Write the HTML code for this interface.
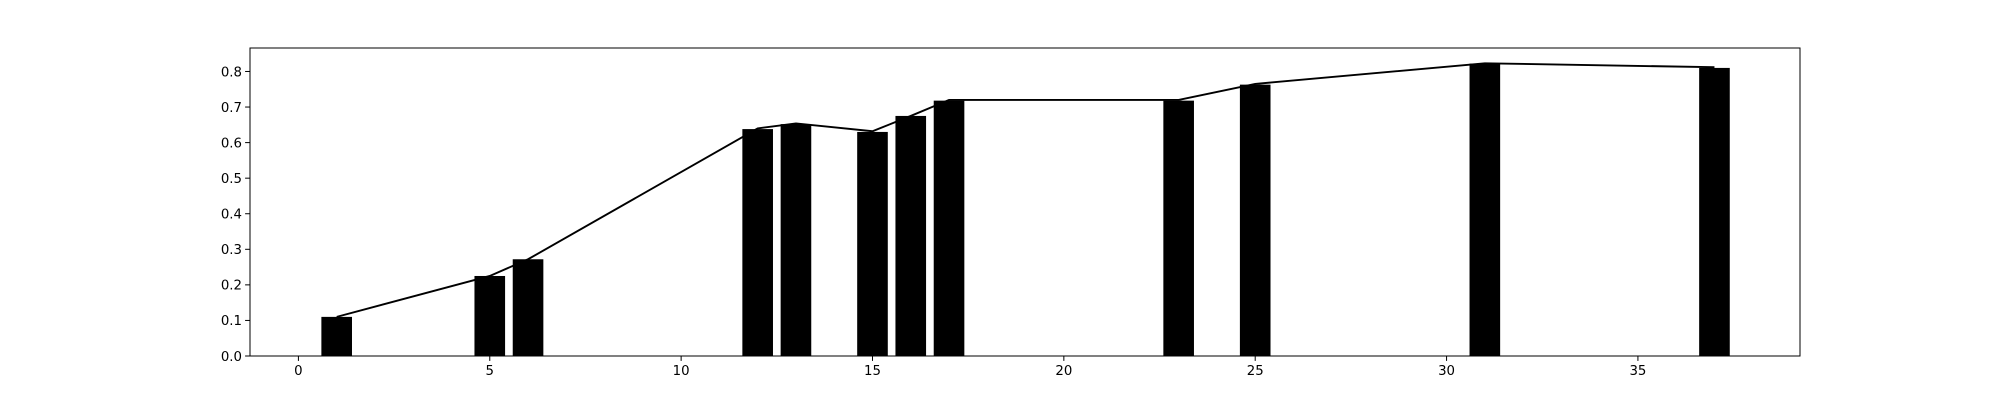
<!DOCTYPE html>
<html><head><meta charset="utf-8"><style>
body{margin:0;background:#fff}
svg{display:block}
text{font-family:"DejaVu Sans","Liberation Sans",sans-serif;font-size:13.3px;fill:#000}
</style></head><body>
<svg id="chart" width="2000" height="400" xmlns="http://www.w3.org/2000/svg"></svg>
<script>
const categories=[1,5,6,12,13,15,16,17,23,25,31,37];
const barValues=[0.11,0.225,0.272,0.638,0.652,0.63,0.675,0.718,0.718,0.763,0.822,0.81];
const lineValues=[0.11,0.225,0.272,0.64,0.654,0.632,0.675,0.72,0.72,0.765,0.823,0.812];
const xTicks=[0,5,10,15,20,25,30,35];
const yTicks=[0.0,0.1,0.2,0.3,0.4,0.5,0.6,0.7,0.8];
const L=250,R=1800,T=48,B=356,xmin=-1.265,xmax=39.235,ymax=0.866;
const sx=v=>L+(v-xmin)/(xmax-xmin)*(R-L);
const sy=v=>B-v/ymax*(B-T);
const svg=document.getElementById('chart');const NS='http://www.w3.org/2000/svg';
function mk(t,a,p){const e=document.createElementNS(NS,t);for(const k in a)e.setAttribute(k,a[k]);(p||svg).appendChild(e);return e;}
const gb=mk('g',{});


categories.forEach((c,i)=>{const x0=sx(c-0.4),x1=sx(c+0.4);
const r=mk('rect',{x:x0,y:sy(barValues[i]),width:x1-x0,height:B-sy(barValues[i]),fill:'#000'},gb);

});
const pl=mk('polyline',{points:categories.map((c,i)=>sx(c)+','+sy(lineValues[i])).join(' '),fill:'none',stroke:'#000','stroke-width':1.9});


const fr=mk('rect',{x:L,y:T,width:R-L,height:B-T,fill:'none',stroke:'#000','stroke-width':1.2,'shape-rendering':'crispEdges'});


const gx=mk('g',{});


xTicks.forEach(v=>{const x=sx(v);mk('line',{x1:x,x2:x,y1:B,y2:B+4.9,stroke:'#000'},gx);
const t=mk('text',{x:x,y:B+19,'text-anchor':'middle'},gx);t.textContent=v;

});
const gy=mk('g',{});


yTicks.forEach(v=>{const y=sy(v);mk('line',{x1:L-4.9,x2:L,y1:y,y2:y,stroke:'#000'},gy);
const t=mk('text',{x:L-8,y:y+4.8,'text-anchor':'end'},gy);t.textContent=v.toFixed(1);

});
</script>
</body></html>
